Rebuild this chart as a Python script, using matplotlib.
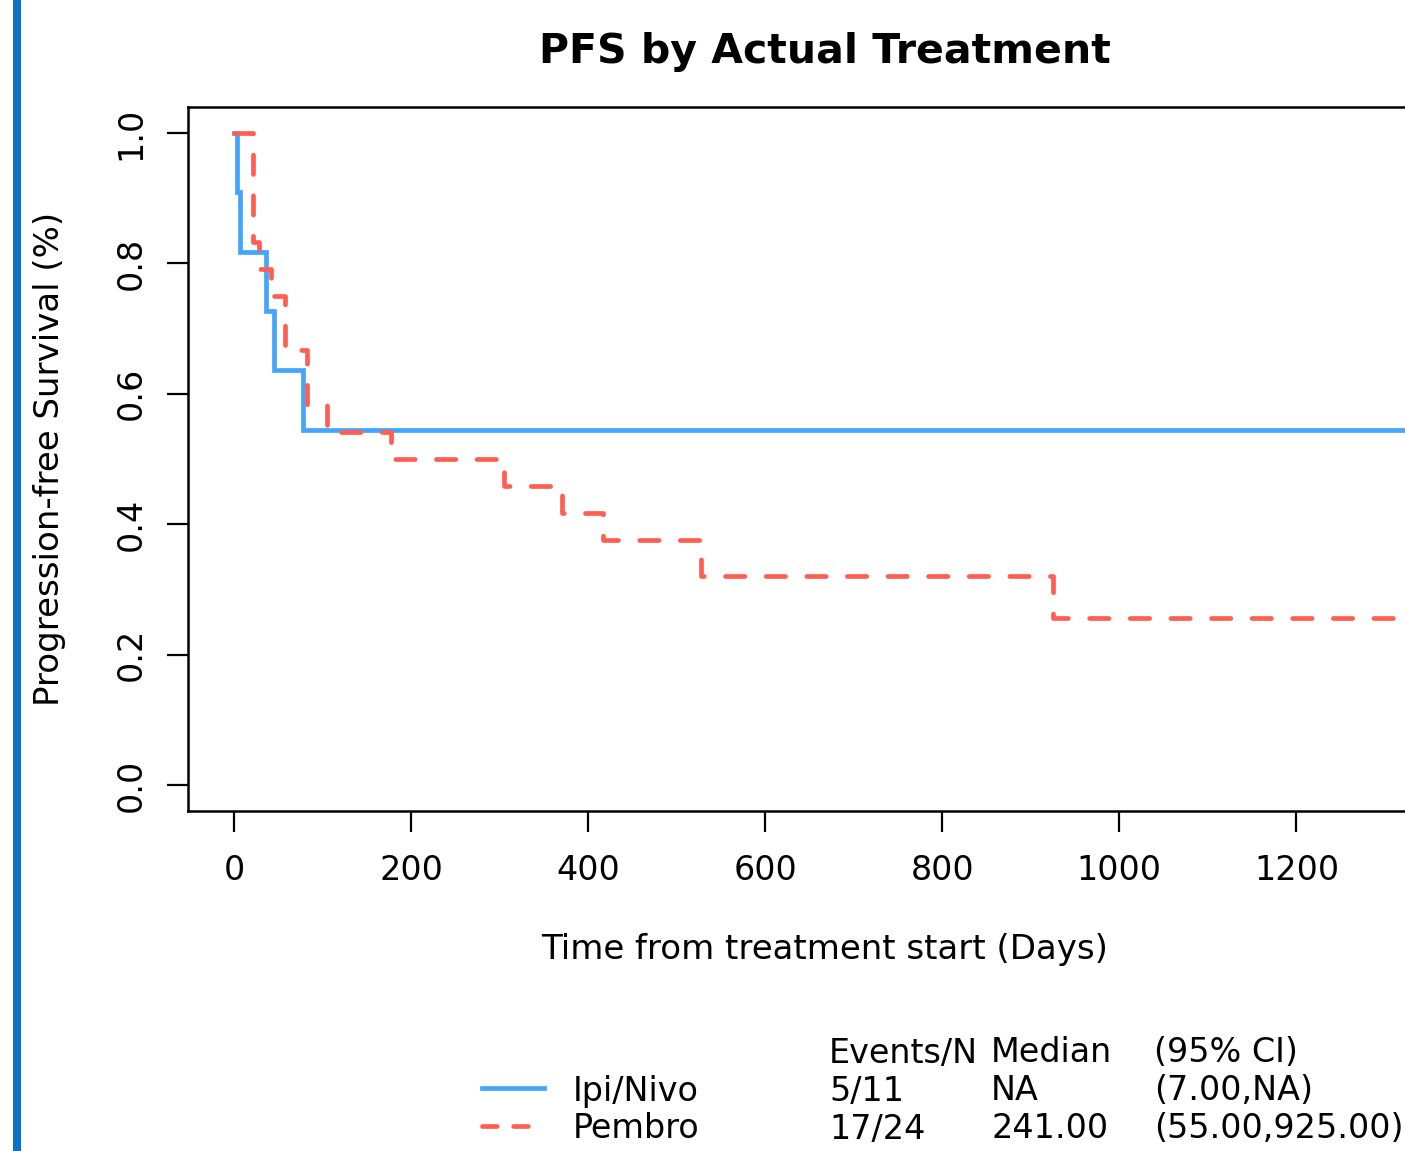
import matplotlib.pyplot as plt
from matplotlib.lines import Line2D
from matplotlib.patches import Rectangle

# Kaplan-Meier step values
ipi_time = [0, 3, 7, 36, 45, 78, 1334]
ipi_surv = [1.0, 0.909, 0.818, 0.727, 0.636, 0.545, 0.545]

pem_time = [0, 21, 28, 42, 57, 82, 105, 177, 305, 371, 417, 527, 925, 1334]
pem_surv = [1.0, 0.833, 0.792, 0.750, 0.667, 0.583, 0.542, 0.500,
            0.458, 0.417, 0.375, 0.320, 0.256, 0.256]

x_ticks = [0, 200, 400, 600, 800, 1000, 1200]
y_ticks = [0.0, 0.2, 0.4, 0.6, 0.8, 1.0]

groups = ['Ipi/Nivo', 'Pembro']
events_n = ['5/11', '17/24']
medians = ['NA', '241.00']
cis = ['(7.00,NA)', '(55.00,925.00)']

blue = '#44A6FA'
red = '#FF5F52'

plt.rcParams['font.family'] = ['DejaVu Sans']
fs = 24

fig = plt.figure(figsize=(14.05, 11.51), dpi=100)
ax = fig.add_axes([188 / 1405, 1 - 811 / 1151, (1462 - 188) / 1405, (811 - 107) / 1151])

ax.step(ipi_time, ipi_surv, where='post', color=blue, lw=3.4, solid_joinstyle='miter')
ax.step(pem_time, pem_surv, where='post', color=red, lw=3.4,
        linestyle=(0, (4.1, 4.5)), dash_capstyle='round')

ax.set_xlim(-52, 1387)
ax.set_ylim(-0.04, 1.04)
ax.set_xticks(x_ticks)
ax.set_xticklabels([str(t) for t in x_ticks])
ax.set_yticks(y_ticks)
ax.set_yticklabels(['%.1f' % t for t in y_ticks], rotation=90, va='center')
ax.tick_params(axis='both', direction='out', length=15, width=1.6, labelsize=fs, pad=14)
ax.tick_params(axis='x', pad=16)
for s in ax.spines.values():
    s.set_linewidth(1.8)

ax.set_title('PFS by Actual Treatment', fontsize=29.5, fontweight='bold', pad=32)
ax.set_xlabel('Time from treatment start (Days)', fontsize=24.5, labelpad=33)
ax.set_ylabel('Progression-free Survival (%)', fontsize=24.5, labelpad=35)

# left accent strip
fig.add_artist(Rectangle((13 / 1405, 0), 8 / 1405, 1, transform=fig.transFigure,
                         color='#0A72C8', lw=0))

# legend table below the plot
def fy(py):
    return 1 - py / 1151

col_x = [829 / 1405, 991 / 1405, 1154 / 1405]
header = ['Events/N', 'Median', '(95% CI)']
for cx, h in zip(col_x, header):
    fig.text(cx, fy(1053), h, fontsize=fs, va='center', ha='left')

rows_y = [1088, 1126]
key_x = [[482 / 1405, 544 / 1405], [482 / 1405, 530 / 1405]]
styles = [dict(color=blue, lw=3.4),
          dict(color=red, lw=3.4, linestyle=(0, (3.1, 3.5)), dash_capstyle='round')]
for i, g in enumerate(groups):
    yy = fy(rows_y[i])
    ty = fy(rows_y[i] + 3)
    fig.add_artist(Line2D(key_x[i], [yy, yy], transform=fig.transFigure, **styles[i]))
    fig.text(573 / 1405, ty, g, fontsize=fs, va='center', ha='left')
    fig.text(col_x[0], ty, events_n[i], fontsize=fs, va='center', ha='left')
    fig.text(col_x[1], ty, medians[i], fontsize=fs, va='center', ha='left')
    fig.text(col_x[2], ty, cis[i], fontsize=fs, va='center', ha='left')

fig.savefig('out.png', dpi=100)
